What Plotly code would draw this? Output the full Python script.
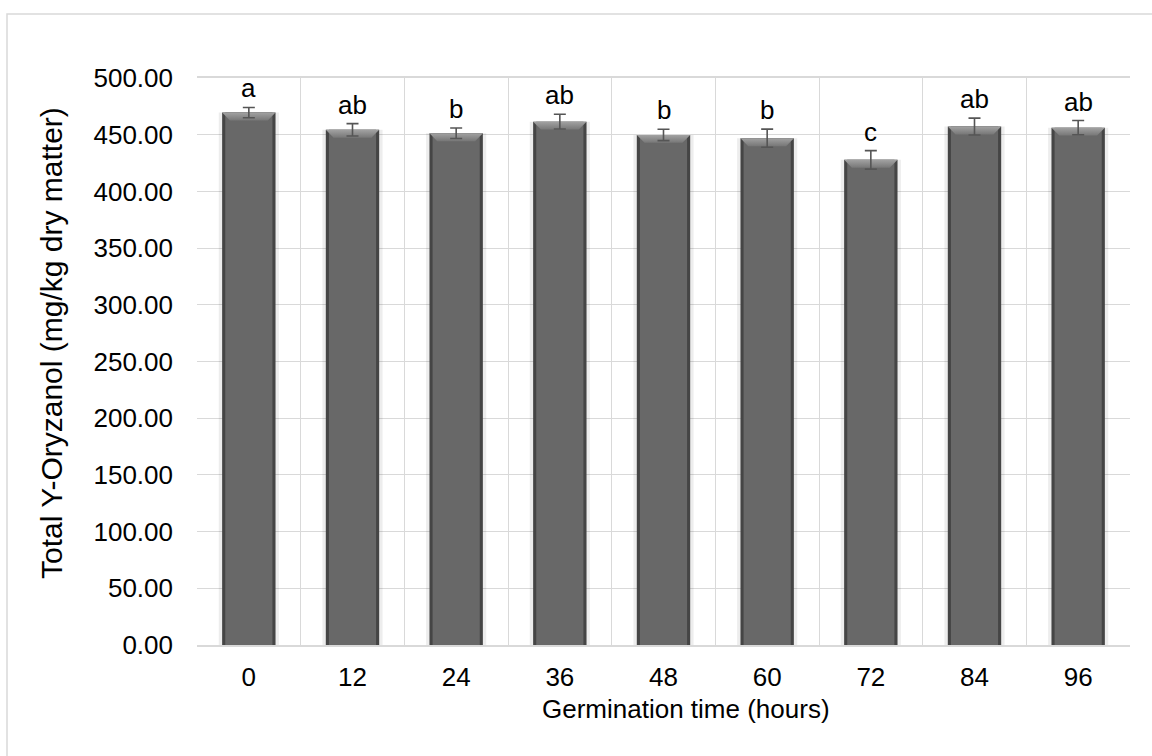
import plotly.graph_objects as go

# Germination time (h), total gamma-oryzanol (mg/kg dry matter), SD and significance letters
hours = [0, 12, 24, 36, 48, 60, 72, 84, 96]
oryzanol = [469.5, 454.3, 451.3, 461.5, 449.8, 446.9, 427.8, 457.2, 456.2]
sd = [4.5, 5.5, 4.6, 6.5, 5.0, 8.0, 8.2, 7.4, 6.3]
letters = ["a", "ab", "b", "ab", "b", "b", "c", "ab", "ab"]
y_ticks = [0, 50, 100, 150, 200, 250, 300, 350, 400, 450, 500]

W, H = 1152, 756
ML, MR, MT, MB = 197, 22, 78, 111
FONT = "Liberation Sans, Arial, sans-serif"
pw, ph = W - ML - MR, H - MT - MB


def px_x(px):
    return (px - ML) / pw


def px_y(py):
    return 1 + (MT - py) / ph


step = 12
bar_w = 0.515 * step
inner_w = 0.455 * step

fig = go.Figure()

# soft halo around each bar
fig.add_trace(go.Bar(x=hours, y=oryzanol, width=0.58 * step,
                     marker=dict(color="rgba(0,0,0,0.07)", line=dict(width=0)),
                     hoverinfo="skip", showlegend=False))
# dark rim
fig.add_trace(go.Bar(x=hours, y=oryzanol, width=bar_w,
                     marker=dict(color="#454545", line=dict(width=0)),
                     showlegend=False))
# bar face
fig.add_trace(go.Bar(x=hours, y=oryzanol, width=inner_w,
                     marker=dict(color="#686868", line=dict(width=0)),
                     hoverinfo="skip", showlegend=False))

# bevelled top of each bar
bev_h = 7.0
bev_d = 0.9
for h, v in zip(hours, oryzanol):
    x0, x1 = h - bar_w / 2, h + bar_w / 2
    fig.add_trace(go.Scatter(
        x=[x0, x1, x1 - bev_d, x0 + bev_d, x0],
        y=[v, v, v - bev_h, v - bev_h, v],
        mode="lines", line=dict(width=0), fill="toself",
        fillgradient=dict(type="vertical", start=v, stop=v - bev_h,
                          colorscale=[[0, "#a2a2a2"], [1, "#777777"]]),
        hoverinfo="skip", showlegend=False))

# error bars
fig.add_trace(go.Scatter(
    x=hours, y=oryzanol, mode="markers",
    marker=dict(size=1, color="rgba(0,0,0,0)"),
    error_y=dict(type="data", array=sd, visible=True,
                 color="#555555", thickness=1.6, width=6),
    showlegend=False))

# significance letters
for h, v, e, t in zip(hours, oryzanol, sd, letters):
    fig.add_annotation(x=h, y=v + e, text=t, showarrow=False,
                       yanchor="bottom", yshift=2,
                       font=dict(family=FONT, size=26, color="#000000"))

# axis titles
fig.add_annotation(xref="paper", yref="paper", x=px_x(686), y=px_y(709),
                   text="Germination time (hours)", showarrow=False,
                   xanchor="center", yanchor="middle",
                   font=dict(family=FONT, size=26, color="#000000"))
fig.add_annotation(xref="paper", yref="paper", x=px_x(52), y=px_y(343),
                   text="Total Y-Oryzanol (mg/kg dry matter)", showarrow=False,
                   textangle=-90, xanchor="center", yanchor="middle",
                   font=dict(family=FONT, size=30, color="#000000"))

# outer chart frame
fig.add_shape(type="rect", xref="paper", yref="paper",
              x0=px_x(7), x1=px_x(1160), y0=px_y(770), y1=px_y(14),
              line=dict(color="#d9d9d9", width=1.5), fillcolor="rgba(0,0,0,0)",
              layer="below")

fig.update_layout(
    width=W, height=H,
    margin=dict(l=ML, r=MR, t=MT, b=MB),
    barmode="overlay",
    plot_bgcolor="white", paper_bgcolor="white",
    font=dict(family=FONT, size=26, color="#000000"),
    xaxis=dict(
        range=[-step / 2, hours[-1] + step / 2],
        tickvals=hours, ticktext=[str(h) for h in hours],
        showgrid=False, zeroline=False,
        showline=True, linecolor="#d9d9d9", linewidth=1.5, mirror=True,
        ticks="", ticklabelstandoff=8,
        minor=dict(tick0=-step / 2, dtick=step, showgrid=True,
                   gridcolor="#d9d9d9", gridwidth=1.3, ticks=""),
        tickfont=dict(size=26),
    ),
    yaxis=dict(
        range=[0, 500], tickvals=y_ticks, tickformat=".2f",
        showgrid=True, gridcolor="#d9d9d9", gridwidth=1.3,
        zeroline=False, showline=False, ticks="", ticklabelstandoff=23,
        tickfont=dict(size=26),
    ),
)

fig.write_html("out.html")
